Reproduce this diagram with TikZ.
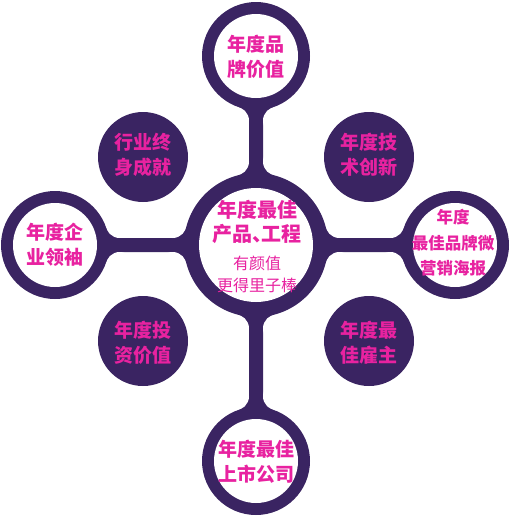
\documentclass[tikz,border=0pt]{standalone}
\usepackage{fontspec}
\newfontfamily\cjk{Noto Sans CJK SC}
\definecolor{purp}{RGB}{58,36,98}
\definecolor{pinkc}{RGB}{232,34,160}
\def\hw{7}\def\fr{14}
\newcommand\mkstem[4]{%
\begin{scope}[shift={(256,245)},rotate=#1]
\pgfmathsetmacro\az{sqrt((#3+\fr)^2-(\hw+\fr)^2)}
\pgfmathsetmacro\ao{sqrt((#4+\fr)^2-(\hw+\fr)^2)}
\pgfmathsetmacro\sz{#3/(#3+\fr)}
\pgfmathsetmacro\so{#4/(#4+\fr)}
\pgfmathsetmacro\q{\hw+\fr}
\fill[purp] (0,0) -- (\az*\sz,\q*\sz) -- (\az,\hw) -- (#2-\ao,\hw) -- (#2-\ao*\so,\q*\so) -- (#2,0)
  -- (#2-\ao*\so,-\q*\so) -- (#2-\ao,-\hw) -- (\az,-\hw) -- (\az*\sz,-\q*\sz) -- cycle;
\fill[white] (\az,\q) circle[radius=\fr] (\az,-\q) circle[radius=\fr]
  (#2-\ao,\q) circle[radius=\fr] (#2-\ao,-\q) circle[radius=\fr];
\end{scope}}
\tikzset{
  big/.style={font=\cjk\bfseries\fontsize{19}{25}\selectfont, text=pinkc, align=center, inner sep=0pt},
  small/.style={font=\cjk\fontsize{16}{22}\selectfont, text=pinkc, align=center, inner sep=0pt},
  ringouter/.style={fill=purp},
  ringinner/.style={fill=white},
}
\begin{document}
\begin{tikzpicture}[x=1pt,y=-1pt]
\useasboundingbox (0,0) rectangle (510,520);
% stems
\mkstem{90}{189}{72}{54}
\mkstem{270}{216}{72}{54}
\mkstem{180}{201}{72}{54}
\mkstem{0}{199}{72}{54}
% rings
\fill[ringouter] (256,245) circle[radius=72];
\fill[ringinner] (256,245) circle[radius=57];
\foreach \p in {(256,56),(256,461),(55,245),(455,245)}{
  \fill[ringouter] \p circle[radius=54];
  \fill[ringinner] \p circle[radius=42];
}
% diagonal discs
\foreach \p in {(143,157),(369,157),(143,341),(369,341)}{
  \fill[purp] \p circle[radius=45];
}
% texts
\node[big] (top) at (256,57) {年度品\\牌价值};
\node[big] (bot) at (256,462) {年度最佳\\上市公司};
\node[big] (lef) at (55,245) {年度企\\业领袖};
\node[big, font=\cjk\bfseries\fontsize{16.5}{25.5}\selectfont] (rig) at (453,243) {年度\\最佳品牌微\\营销海报};
\node[big] (tl) at (143,155) {行业终\\身成就};
\node[big] (tr) at (369,155) {年度技\\术创新};
\node[big] (bl) at (143,343) {年度投\\资价值};
\node[big] (br) at (369,343) {年度最\\佳雇主};
\node[big, font=\cjk\bfseries\fontsize{20}{24}\selectfont] (c1) at (257,210) {年度最佳};
\node[big, font=\cjk\bfseries\fontsize{20}{24}\selectfont] (c2) at (257,234) {产品、\hspace{-0.55em}工程};
\node[small] (c3) at (257,263) {有颜值};
\node[small] (c4) at (257,285) {更得里子棒};
\end{tikzpicture}
\end{document}
